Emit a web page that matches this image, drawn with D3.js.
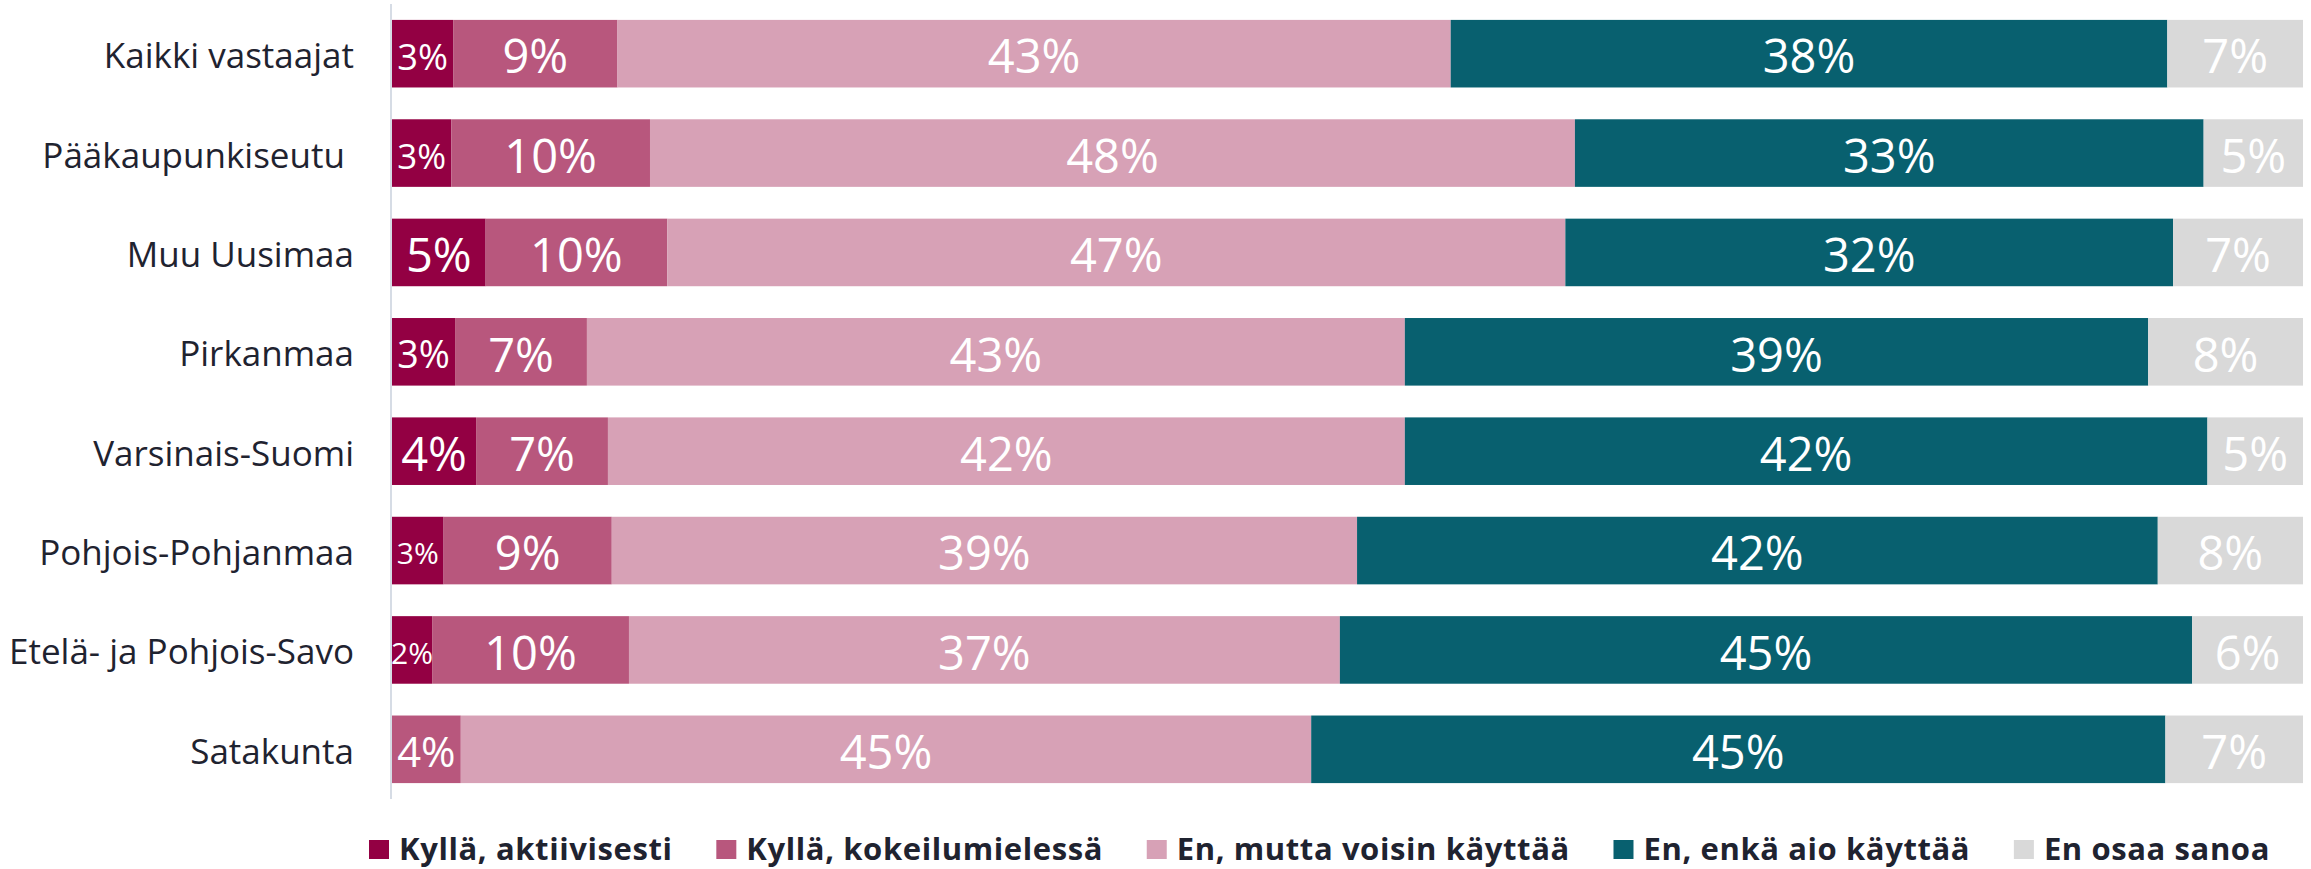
<!DOCTYPE html>
<html>
<head>
<meta charset="utf-8">
<script src="https://cdn.jsdelivr.net/npm/d3@7"></script>
<style>
  html, body { margin: 0; padding: 0; background: #ffffff; }
  svg { display: block; }
  text { font-family: "Open Sans", "Noto Sans", sans-serif; }
</style>
</head>
<body>
<svg id="chart" width="2311" height="869"></svg>
<script>
// ---- Data ----
const categories = [
  "Kaikki vastaajat",
  "Pääkaupunkiseutu ",
  "Muu Uusimaa",
  "Pirkanmaa",
  "Varsinais-Suomi",
  "Pohjois-Pohjanmaa",
  "Etelä- ja Pohjois-Savo",
  "Satakunta"
];
const seriesNames = [
  "Kyllä, aktiivisesti",
  "Kyllä, kokeilumielessä",
  "En, mutta voisin käyttää",
  "En, enkä aio käyttää",
  "En osaa sanoa"
];
const seriesColors = ["#930043", "#b8577d", "#d7a1b6", "#08606f", "#d9d9d9"];

// bar lengths (% of respondents)
const aktiivisesti   = [3.2, 3.1, 4.9, 3.3, 4.4, 2.7, 2.1, 0.0];
const kokeilu        = [8.6, 10.4, 9.5, 6.9, 6.9, 8.8, 10.3, 3.6];
const voisinKayttaa  = [43.6, 48.4, 47.0, 42.8, 41.7, 39.0, 37.2, 44.5];
const enkaAio        = [37.5, 32.9, 31.8, 38.9, 42.0, 41.9, 44.6, 44.7];
const enOsaa         = [7.1, 5.2, 6.8, 8.1, 5.0, 7.6, 5.8, 7.2];

// printed data labels
const aktiivisestiLabels  = ["3%", "3%", "5%", "3%", "4%", "3%", "2%", ""];
const kokeiluLabels       = ["9%", "10%", "10%", "7%", "7%", "9%", "10%", "4%"];
const voisinKayttaaLabels = ["43%", "48%", "47%", "43%", "42%", "39%", "37%", "45%"];
const enkaAioLabels       = ["38%", "33%", "32%", "39%", "42%", "42%", "45%", "45%"];
const enOsaaLabels        = ["7%", "5%", "7%", "8%", "5%", "8%", "6%", "7%"];

const seriesValues = [aktiivisesti, kokeilu, voisinKayttaa, enkaAio, enOsaa];
const seriesLabels = [aktiivisestiLabels, kokeiluLabels, voisinKayttaaLabels, enkaAioLabels, enOsaaLabels];

// ---- Build table ----
const rows = categories.map((c, i) => {
  const r = { category: c };
  seriesNames.forEach((s, k) => { r[s] = seriesValues[k][i]; });
  return r;
});
const stack = d3.stack().keys(seriesNames)(rows);

// ---- Layout ----
const svg = d3.select("#chart");
const plotLeft = 392, plotRight = 2303, plotTop = 4, plotBottom = 799;

const x = d3.scaleLinear().domain([0, 100]).range([plotLeft, plotRight]);
const y = d3.scaleBand().domain(categories).range([plotTop, plotBottom])
  .paddingInner(0.32).paddingOuter(0.16);
const color = d3.scaleOrdinal().domain(seriesNames).range(seriesColors);

// bars
const layers = svg.append("g").selectAll("g")
  .data(stack).join("g")
  .attr("fill", d => color(d.key));

layers.selectAll("rect")
  .data(d => d.map(p => ({ p, key: d.key })))
  .join("rect")
  .attr("x", d => x(d.p[0]))
  .attr("y", d => y(d.p.data.category))
  .attr("width", d => Math.max(0, x(d.p[1]) - x(d.p[0])))
  .attr("height", y.bandwidth());

// value labels
const labelG = svg.append("g");
stack.forEach((layer, k) => {
  layer.forEach((p, i) => {
    const txt = seriesLabels[k][i];
    if (!txt) return;
    const segW = x(p[1]) - x(p[0]);
    const fs = Math.min(47, Math.max(30, (segW - 10) / 1.41));
    const cy = y(categories[i]) + y.bandwidth() / 2;
    labelG.append("text")
      .attr("x", (x(p[0]) + x(p[1])) / 2)
      .attr("y", cy + 0.357 * fs + 3)
      .attr("text-anchor", "middle")
      .attr("fill", "#ffffff")
      .style("font-size", fs + "px")
      .text(txt);
  });
});

// y axis (category labels + line)
const yAxis = d3.axisLeft(y).tickSize(0).tickPadding(0);
const axisG = svg.append("g")
  .attr("transform", `translate(${plotLeft - 1},0)`)
  .call(yAxis);
axisG.select(".domain")
  .attr("stroke", "#d6dce5")
  .attr("stroke-width", 2)
  .attr("d", `M0,${plotTop}V${plotBottom}`);
axisG.selectAll(".tick text")
  .attr("x", -37)
  .attr("dy", null)
  .attr("y", 0.357 * 35 + 2)
  .attr("fill", "#1f2330")
  .style("font-size", "35px")
  .style("font-family", "'Open Sans', sans-serif")
  .style("white-space", "pre")
  .attr("text-anchor", "end");
axisG.selectAll(".tick line").remove();

// legend: spread items between the reference's left and right legend edges
const legend = svg.append("g");
const legendLeft = 369, legendRight = 2270, ly = 840;
const items = seriesNames.map((s, k) => {
  const g = legend.append("g");
  g.append("rect")
    .attr("x", 0).attr("y", ly)
    .attr("width", 20).attr("height", 19)
    .attr("fill", seriesColors[k]);
  const t = g.append("text")
    .attr("x", 30).attr("y", ly + 20)
    .attr("fill", "#1f2330")
    .style("font-size", "31px")
    .style("font-weight", "700")
    .style("letter-spacing", "0.6px")
    .text(s);
  return { g, w: 30 + t.node().getComputedTextLength() };
});
const totalW = d3.sum(items, d => d.w);
const gap = (legendRight - legendLeft - totalW) / (items.length - 1);
let lx = legendLeft;
items.forEach(it => {
  it.g.attr("transform", `translate(${lx},0)`);
  lx += it.w + gap;
});
</script>
</body>
</html>
